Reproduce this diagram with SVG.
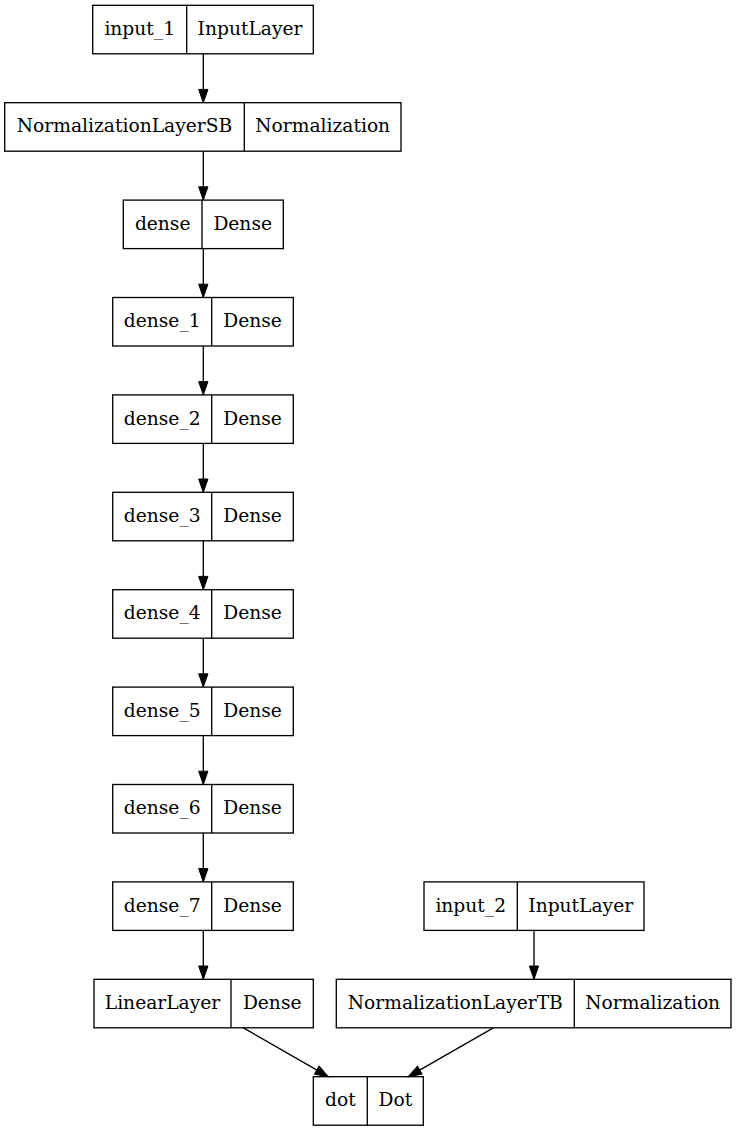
<svg xmlns="http://www.w3.org/2000/svg" width="737" height="1131" viewBox="0 0 737 1131">
<style>
.b{fill:none;stroke:#000;stroke-width:1.33}
.t{font-family:"DejaVu Serif","Liberation Serif",serif;font-size:18.67px;text-anchor:middle;fill:#000}
.e{fill:none;stroke:#000;stroke-width:1.33}
</style>
<defs>
<marker id="ah" markerUnits="strokeWidth" markerWidth="10" markerHeight="7" refX="10" refY="3.5" orient="auto" overflow="visible">
<path d="M0,0 L10,3.5 L0,7 Z" fill="#000" stroke="#000" stroke-width="0.75"/>
</marker>
</defs>
<rect width="737" height="1131" fill="#fff"/>
<g id="input_1"><rect class="b" x="92.7" y="5.3" width="220.6" height="48.5"/><line class="b" x1="186.7" y1="5.3" x2="186.7" y2="53.8"/><text class="t" x="139.7" y="35">input_1</text><text class="t" x="250" y="35">InputLayer</text></g>
<g id="NormalizationLayerSB"><rect class="b" x="4.7" y="102.7" width="396.3" height="48.5"/><line class="b" x1="244.3" y1="102.7" x2="244.3" y2="151.2"/><text class="t" x="124.5" y="132.3">NormalizationLayerSB</text><text class="t" x="322.7" y="132.3">Normalization</text></g>
<g id="dense"><rect class="b" x="123.3" y="200.1" width="160" height="48.5"/><line class="b" x1="202" y1="200.1" x2="202" y2="248.6"/><text class="t" x="162.7" y="229.7">dense</text><text class="t" x="242.7" y="229.7">Dense</text></g>
<g id="dense_1"><rect class="b" x="112.7" y="297.5" width="180.6" height="48.5"/><line class="b" x1="211.7" y1="297.5" x2="211.7" y2="346"/><text class="t" x="162.2" y="327.1">dense_1</text><text class="t" x="252.5" y="327.1">Dense</text></g>
<g id="dense_2"><rect class="b" x="112.7" y="394.9" width="180.6" height="48.5"/><line class="b" x1="211.7" y1="394.9" x2="211.7" y2="443.4"/><text class="t" x="162.2" y="424.5">dense_2</text><text class="t" x="252.5" y="424.5">Dense</text></g>
<g id="dense_3"><rect class="b" x="112.7" y="492.3" width="180.6" height="48.5"/><line class="b" x1="211.7" y1="492.3" x2="211.7" y2="540.8"/><text class="t" x="162.2" y="521.9">dense_3</text><text class="t" x="252.5" y="521.9">Dense</text></g>
<g id="dense_4"><rect class="b" x="112.7" y="589.7" width="180.6" height="48.5"/><line class="b" x1="211.7" y1="589.7" x2="211.7" y2="638.2"/><text class="t" x="162.2" y="619.3">dense_4</text><text class="t" x="252.5" y="619.3">Dense</text></g>
<g id="dense_5"><rect class="b" x="112.7" y="687.1" width="180.6" height="48.5"/><line class="b" x1="211.7" y1="687.1" x2="211.7" y2="735.6"/><text class="t" x="162.2" y="716.7">dense_5</text><text class="t" x="252.5" y="716.7">Dense</text></g>
<g id="dense_6"><rect class="b" x="112.7" y="784.5" width="180.6" height="48.5"/><line class="b" x1="211.7" y1="784.5" x2="211.7" y2="833"/><text class="t" x="162.2" y="814.1">dense_6</text><text class="t" x="252.5" y="814.1">Dense</text></g>
<g id="dense_7"><rect class="b" x="112.7" y="881.9" width="180.6" height="48.5"/><line class="b" x1="211.7" y1="881.9" x2="211.7" y2="930.4"/><text class="t" x="162.2" y="911.5">dense_7</text><text class="t" x="252.5" y="911.5">Dense</text></g>
<g id="input_2"><rect class="b" x="424" y="881.9" width="220" height="48.5"/><line class="b" x1="517.3" y1="881.9" x2="517.3" y2="930.4"/><text class="t" x="470.7" y="911.5">input_2</text><text class="t" x="580.7" y="911.5">InputLayer</text></g>
<g id="LinearLayer"><rect class="b" x="94" y="979.3" width="219.3" height="48.5"/><line class="b" x1="231" y1="979.3" x2="231" y2="1027.8"/><text class="t" x="162.5" y="1008.9">LinearLayer</text><text class="t" x="272.2" y="1008.9">Dense</text></g>
<g id="NormalizationLayerTB"><rect class="b" x="336.3" y="979.3" width="394.7" height="48.5"/><line class="b" x1="574.3" y1="979.3" x2="574.3" y2="1027.8"/><text class="t" x="455.3" y="1008.9">NormalizationLayerTB</text><text class="t" x="652.7" y="1008.9">Normalization</text></g>
<g id="dot"><rect class="b" x="313.3" y="1076.7" width="110" height="48.5"/><line class="b" x1="367.3" y1="1076.7" x2="367.3" y2="1125.2"/><text class="t" x="340.3" y="1106.3">dot</text><text class="t" x="395.3" y="1106.3">Dot</text></g>
<g id="connectors">
<line class="e" x1="203.3" y1="53.8" x2="203.3" y2="102.7" marker-end="url(#ah)"/>
<line class="e" x1="203.3" y1="151.2" x2="203.3" y2="200.1" marker-end="url(#ah)"/>
<line class="e" x1="203.3" y1="248.6" x2="203.3" y2="297.5" marker-end="url(#ah)"/>
<line class="e" x1="203.3" y1="346" x2="203.3" y2="394.9" marker-end="url(#ah)"/>
<line class="e" x1="203.3" y1="443.4" x2="203.3" y2="492.3" marker-end="url(#ah)"/>
<line class="e" x1="203.3" y1="540.8" x2="203.3" y2="589.7" marker-end="url(#ah)"/>
<line class="e" x1="203.3" y1="638.2" x2="203.3" y2="687.1" marker-end="url(#ah)"/>
<line class="e" x1="203.3" y1="735.6" x2="203.3" y2="784.5" marker-end="url(#ah)"/>
<line class="e" x1="203.3" y1="833" x2="203.3" y2="881.9" marker-end="url(#ah)"/>
<line class="e" x1="203.3" y1="930.4" x2="203.3" y2="979.3" marker-end="url(#ah)"/>
<line class="e" x1="534" y1="930.4" x2="534" y2="979.3" marker-end="url(#ah)"/>
<line class="e" x1="243.3" y1="1027.8" x2="328.3" y2="1076.7" marker-end="url(#ah)"/>
<line class="e" x1="493.3" y1="1027.8" x2="408.3" y2="1076.7" marker-end="url(#ah)"/>
</g>
</svg>
